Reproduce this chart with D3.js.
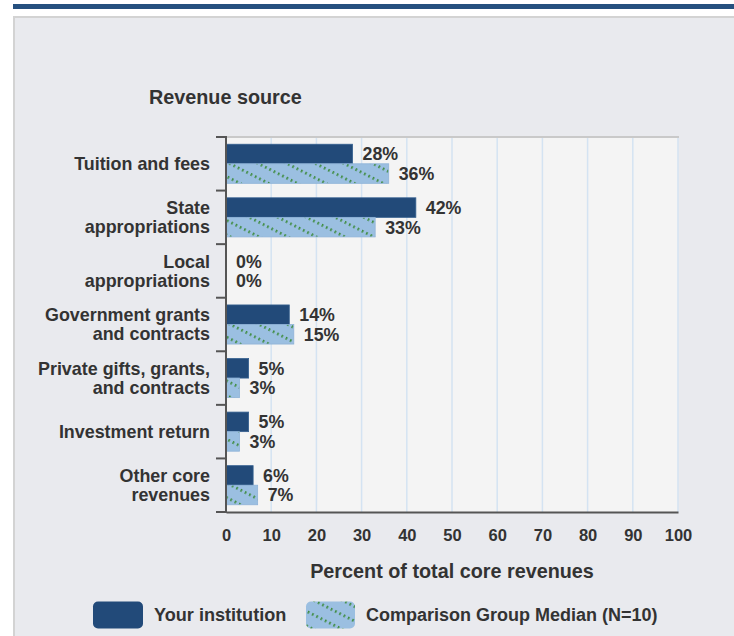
<!DOCTYPE html>
<html><head><meta charset="utf-8">
<script src="https://cdn.jsdelivr.net/npm/d3@7"></script>
<style>
html,body{margin:0;padding:0;background:#fff;}
svg{display:block;}
text{font-family:"Liberation Sans",Arial,Helvetica,sans-serif;font-weight:bold;fill:#333;}
</style></head>
<body>
<svg id="chart" width="734" height="636"></svg>
<script>
const categories = [
  ["Tuition and fees"],
  ["State","appropriations"],
  ["Local","appropriations"],
  ["Government grants","and contracts"],
  ["Private gifts, grants,","and contracts"],
  ["Investment return"],
  ["Other core","revenues"]
];
const yourInstitution = [28, 42, 0, 14, 5, 5, 6];
const comparisonMedian = [36, 33, 0, 15, 3, 3, 7];
const seriesNames = ["Your institution", "Comparison Group Median (N=10)"];
const xTicks = [0,10,20,30,40,50,60,70,80,90,100];
const yTitle = "Revenue source";
const xTitle = "Percent of total core revenues";

const svg = d3.select("#chart");
const defs = svg.append("defs");
const pat = defs.append("pattern").attr("id","hatch").attr("patternUnits","userSpaceOnUse")
  .attr("width",4.8).attr("height",13).attr("patternTransform","rotate(27)");
pat.append("rect").attr("x",-1).attr("y",-1).attr("width",7).attr("height",15).attr("fill","#9bbfe1");
pat.append("rect").attr("x",0).attr("y",1).attr("width",1.6).attr("height",2.8).attr("fill","#3d8b3d");

// top band and panel
svg.append("rect").attr("x",13).attr("y",4).attr("width",721).attr("height",5).attr("fill","#26507f");
svg.append("rect").attr("x",14).attr("y",17).attr("width",730).attr("height",625)
  .attr("fill","#e9eaee").attr("stroke","#d3d3d3").attr("stroke-width",2);

const L = 226, R = 678, T = 137, B = 512;
const x = d3.scaleLinear().domain([0,100]).range([L,R]);
const keys = categories.map((c,i)=>i);
const y = d3.scaleBand().domain(keys).range([T,B]).padding(0);
const sub = d3.scaleBand().domain([0,1]).range([0,y.bandwidth()]).paddingInner(0).paddingOuter(0.37);

// plot background
svg.append("rect").attr("x",L).attr("y",T).attr("width",R-L).attr("height",B-T).attr("fill","#f4f4f4");
// grid
svg.append("g").selectAll("line").data(xTicks.filter(d=>d>0)).join("line")
  .attr("x1",d=>x(d)).attr("x2",d=>x(d)).attr("y1",T).attr("y2",B)
  .attr("stroke","#d4e3f2").attr("stroke-width",1.5);
svg.append("line").attr("x1",L).attr("x2",R+1).attr("y1",T).attr("y2",T).attr("stroke","#c9c9c9").attr("stroke-width",2);

// bars
const g = svg.append("g");
const series = [yourInstitution, comparisonMedian];
series.forEach((vals,s)=>{
  g.selectAll(null).data(vals).join("rect")
    .attr("x",x(0)).attr("y",(d,i)=>y(i)+sub(s))
    .attr("width",d=>x(d)-x(0)).attr("height",sub.bandwidth())
    .attr("fill", s===0 ? "#224a79" : "url(#hatch)")
    .attr("stroke", s===0 ? "#35608f" : "#8fb3d8").attr("stroke-width", d=>d>0?0.8:0);
  g.selectAll(null).data(vals).join("text")
    .attr("x",d=>x(d)+10).attr("y",(d,i)=>y(i)+sub(s)+sub.bandwidth()/2)
    .attr("dy","0.36em").attr("font-size",17.8).text(d=>d+"%");
});

// x axis
const xAxis = d3.axisBottom(x).tickValues(xTicks).tickSize(0).tickPadding(17);
const xg = svg.append("g").attr("transform",`translate(0,${B})`).call(xAxis);
xg.select(".domain").attr("stroke","#555").attr("stroke-width",2);
xg.selectAll("text").attr("font-size",16.5).attr("fill","#333")
  .attr("font-family","Liberation Sans, Arial, sans-serif").attr("font-weight","bold");

// y axis line + ticks
svg.append("line").attr("x1",L).attr("x2",L).attr("y1",T-1).attr("y2",B+1).attr("stroke","#555").attr("stroke-width",2);
svg.append("g").selectAll("line").data(d3.range(categories.length+1)).join("line")
  .attr("x1",L-10).attr("x2",L).attr("y1",i=>T+i*y.step()).attr("y2",i=>T+i*y.step())
  .attr("stroke","#555").attr("stroke-width",2);

// category labels
const cl = svg.append("g");
categories.forEach((lines,i)=>{
  const cy = y(i)+y.bandwidth()/2;
  const lh = 19;
  const t = cl.append("text").attr("text-anchor","end").attr("font-size",17.9);
  lines.forEach((ln,j)=>{
    t.append("tspan").attr("x",210).attr("y",cy + (j-(lines.length-1)/2)*lh).attr("dy","0.36em").text(ln);
  });
});

svg.append("text").attr("x",149).attr("y",104).attr("font-size",19.8).text(yTitle);
svg.append("text").attr("x",452).attr("y",577.5).attr("text-anchor","middle").attr("font-size",19.8).text(xTitle);

// legend
const lg = svg.append("g");
lg.append("rect").attr("x",93).attr("y",601.5).attr("width",50).attr("height",27).attr("rx",5).attr("fill","#224a79");
lg.append("text").attr("x",154).attr("y",620.5).attr("font-size",18.1).text(seriesNames[0]);
lg.append("rect").attr("x",306).attr("y",601.5).attr("width",49).attr("height",27).attr("rx",5).attr("fill","url(#hatch)");
lg.append("text").attr("x",366).attr("y",620.5).attr("font-size",18).text(seriesNames[1]);
</script>
</body></html>
